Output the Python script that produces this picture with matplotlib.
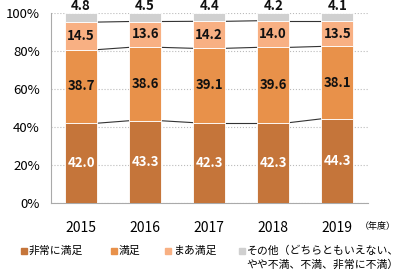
import matplotlib
matplotlib.use("Agg")
from matplotlib import pyplot as plt
from matplotlib.patches import Rectangle
import numpy as np

plt.rcParams['font.family'] = ['Noto Sans CJK JP', 'DejaVu Sans']

years = ["2015", "2016", "2017", "2018", "2019"]
very_satisfied = [42.0, 43.3, 42.3, 42.3, 44.3]
satisfied = [38.7, 38.6, 39.1, 39.6, 38.1]
fairly_satisfied = [14.5, 13.6, 14.2, 14.0, 13.5]
other = [4.8, 4.5, 4.4, 4.2, 4.1]

labels = ["非常に満足", "満足", "まあ満足", "その他（どちらともいえない、\nやや不満、不満、非常に不満）"]
colors = ["#C5753A", "#E8914A", "#F8B083", "#D0D0D0"]

series = [very_satisfied, satisfied, fairly_satisfied, other]
x = np.arange(len(years))
w = 0.5

fig = plt.figure(figsize=(4, 2.7), dpi=100)
ax = fig.add_axes([0.1275, 0.248, 0.7925, 0.704])

bottom = np.zeros(len(years))
tops = []
for vals, c in zip(series, colors):
    vals = np.array(vals)
    ax.bar(x, vals, w, bottom=bottom, color=c, edgecolor="white", linewidth=0.6, zorder=3)
    bottom = bottom + vals
    tops.append(bottom.copy())

# connector lines between bars
for b in tops[:-1]:
    for i in range(len(x) - 1):
        ax.plot([x[i] + w / 2, x[i + 1] - w / 2], [b[i], b[i + 1]],
                color="#333333", lw=0.8, zorder=2)

# data labels
base = np.zeros(len(years))
for k, vals in enumerate(series):
    for i, v in enumerate(vals):
        if k == 3:
            ax.text(x[i], 103.5, f"{v:.1f}", ha="center", va="center",
                    fontsize=9.5, fontweight="bold", color="#111111", clip_on=False)
        else:
            ax.text(x[i], base[i] + v / 2, f"{v:.1f}", ha="center", va="center",
                    fontsize=9.5, fontweight="bold",
                    color="white" if k == 0 else "#111111", zorder=4)
    base = base + np.array(vals)

ax.set_xlim(-0.47, 4.48)
ax.set_ylim(0, 100)
ax.set_yticks(range(0, 101, 20))
ax.set_yticklabels([f"{v}%" for v in range(0, 101, 20)], fontsize=9.5)
ax.set_xticks(x)
ax.set_xticklabels(years, fontsize=10)
ax.tick_params(axis="both", length=0)
ax.tick_params(axis="x", pad=13)
ax.tick_params(axis="y", pad=8)
ax.grid(axis="y", color="#BBBBBB", linestyle=":", lw=0.8, zorder=0)
for s in ["top", "right"]:
    ax.spines[s].set_visible(False)
for s in ["left", "bottom"]:
    ax.spines[s].set_color("#AAAAAA")

fig.text(0.9, 0.162, "（年度）", fontsize=6.5, va="center", ha="left")

# legend
leg_x = [0.052, 0.2775, 0.4125, 0.5975]
y1, y2 = 0.072, 0.020
for lx, lab, c in zip(leg_x, labels, colors):
    fig.patches.append(Rectangle((lx, y1 - 0.011), 0.015, 0.022, color=c,
                                 transform=fig.transFigure, figure=fig))
    lines = lab.split("\n")
    fig.text(lx + 0.019, y1, lines[0], fontsize=7.8, va="center", ha="left")
    if len(lines) > 1:
        fig.text(lx + 0.019, y2, lines[1], fontsize=7.8, va="center", ha="left")

plt.savefig("out.png", dpi=100)
